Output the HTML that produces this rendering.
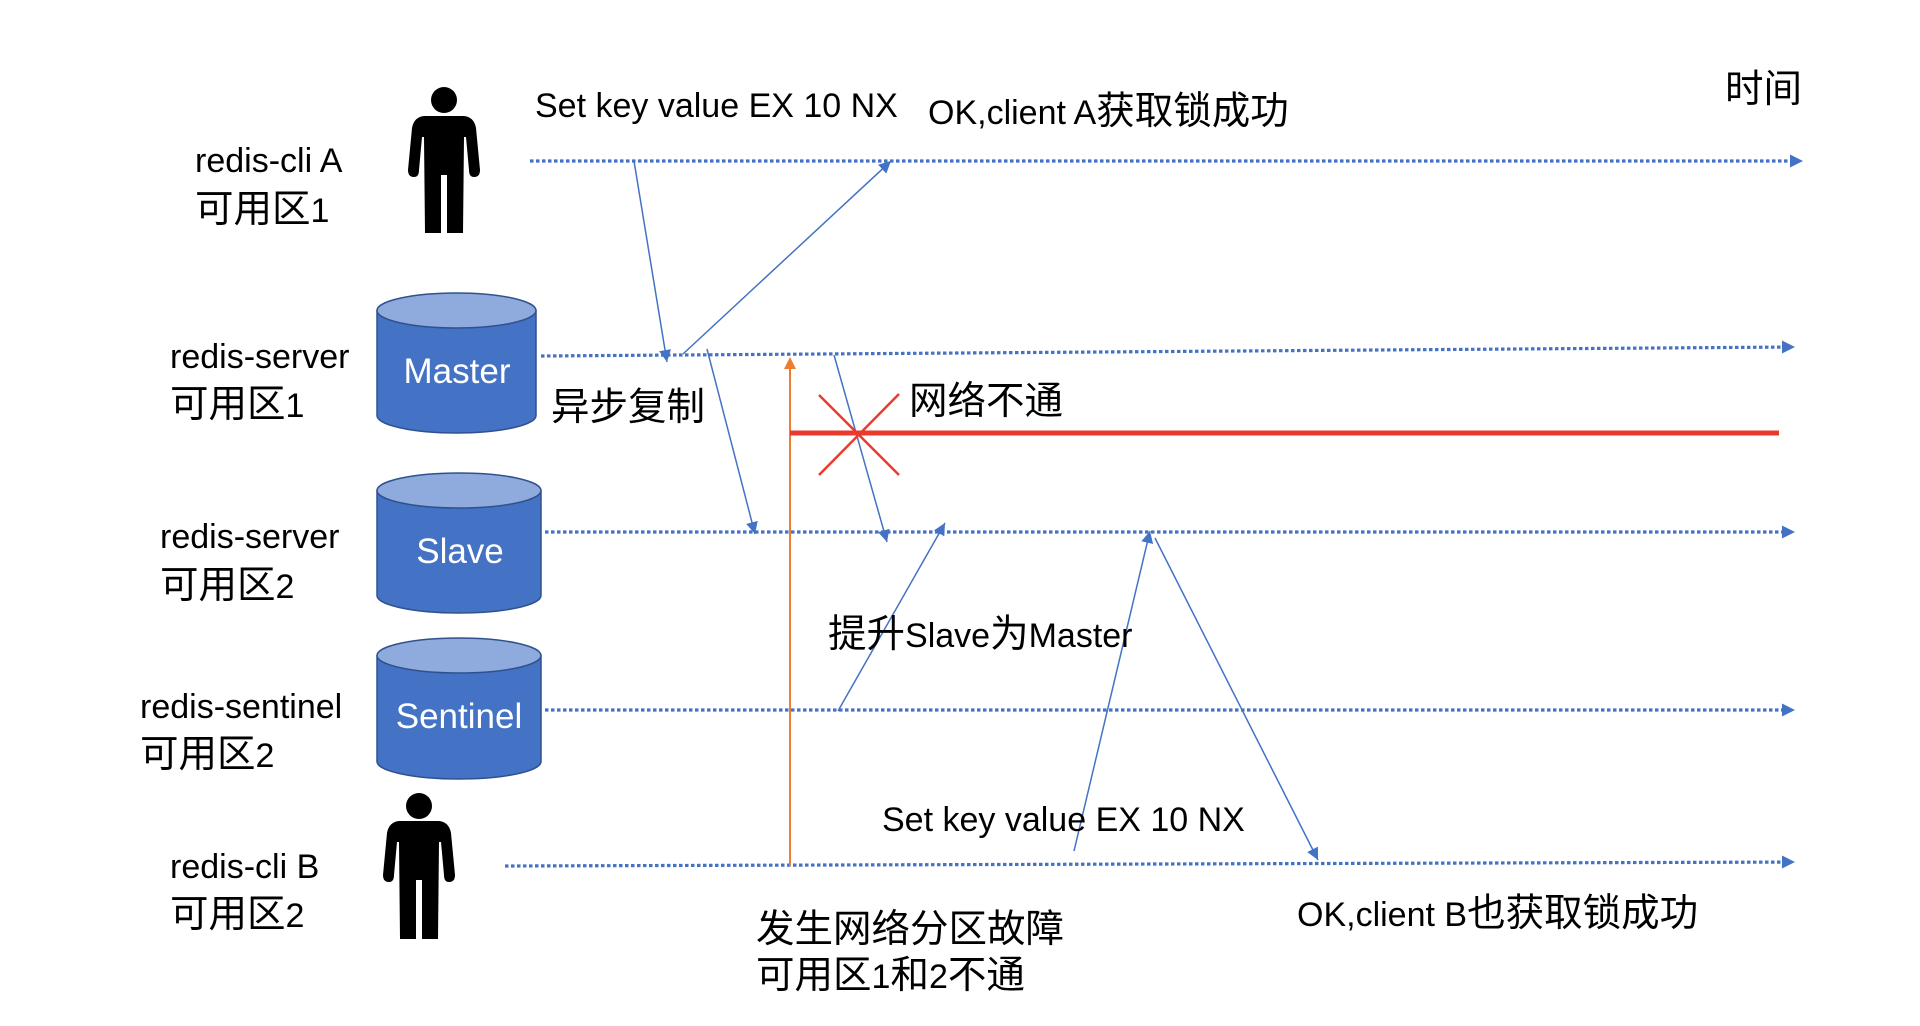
<!DOCTYPE html>
<html>
<head>
<meta charset="utf-8">
<style>
  html, body { margin:0; padding:0; background:#fff; }
  body { width:1920px; height:1026px; overflow:hidden; }
  svg { display:block; }
  text { font-family: "Liberation Sans", "Noto Sans CJK SC", sans-serif; fill:#000; }
  .l { font-size:34px; }
  .c { font-size:38.5px; }
  .w { fill:#fff; font-size:35px; }
</style>
</head>
<body>
<svg width="1920" height="1026" viewBox="0 0 1920 1026" xmlns="http://www.w3.org/2000/svg">
  <defs>
    <marker id="ab" markerWidth="12" markerHeight="12" refX="12" refY="6" orient="auto" markerUnits="userSpaceOnUse">
      <path d="M0,0 L12,6 L0,12 Z" fill="#4472C4"/>
    </marker>
  </defs>
  <rect width="1920" height="1026" fill="#fff"/>

  <!-- Timelines (dotted) -->
  <g stroke="#4472C4" stroke-width="3.2" stroke-dasharray="3.5 2.5" fill="none">
    <line x1="530" y1="161" x2="1790" y2="161"/>
    <line x1="541" y1="356" x2="1782" y2="347.1"/>
    <line x1="545" y1="532" x2="1782" y2="532"/>
    <line x1="545" y1="710" x2="1782" y2="710"/>
    <line x1="505" y1="866" x2="1782" y2="862.1"/>
  </g>
  <g fill="#4472C4">
    <polygon points="1803,161 1790,154.5 1790,167.5"/>
    <polygon points="1795,347 1782,340.5 1782,353.5"/>
    <polygon points="1795,532 1782,525.5 1782,538.5"/>
    <polygon points="1795,710 1782,703.5 1782,716.5"/>
    <polygon points="1795,862 1782,855.5 1782,868.5"/>
  </g>

  <!-- Thin arrows -->
  <g stroke="#4472C4" stroke-width="1.5" fill="none" marker-end="url(#ab)">
    <line x1="634" y1="161" x2="667" y2="362"/>
    <line x1="683" y1="354" x2="891" y2="161"/>
    <line x1="707" y1="349" x2="755" y2="534"/>
    <line x1="834" y1="355" x2="887" y2="542"/>
    <line x1="838" y1="711" x2="945" y2="523"/>
    <line x1="1074" y1="851" x2="1150" y2="531"/>
    <line x1="1155" y1="538" x2="1318" y2="860"/>
  </g>

  <!-- Orange partition arrow -->
  <line x1="790" y1="866" x2="790" y2="367" stroke="#ED7D31" stroke-width="2"/>
  <polygon points="790,357 784,369 796,369" fill="#ED7D31"/>

  <!-- Red network line and X -->
  <line x1="790" y1="433" x2="1779" y2="433" stroke="#EA3A2D" stroke-width="5"/>
  <g stroke="#EA3A2D" stroke-width="2.5">
    <line x1="819" y1="395" x2="899" y2="475"/>
    <line x1="899" y1="394" x2="819" y2="475"/>
  </g>

  <!-- Persons -->
  <g fill="#000">
    <circle cx="444" cy="100" r="13"/>
    <path d="M424,116 L464,116 Q474,117 476,128 L480,170 Q480,177 474,177 Q469,177 469,170 L466,137 L464,137 L463,233 L447,233 L447,175 L441,175 L441,233 L425,233 L424,137 L422,137 L419,170 Q419,177 414,177 Q408,177 408,170 L412,128 Q414,117 424,116 Z"/>
    <circle cx="419" cy="806" r="13"/>
    <path d="M399,821 L439,821 Q449,822 451,833 L455,875 Q455,882 449,882 Q444,882 444,875 L441,842 L439,842 L438,939 L422,939 L422,880 L416,880 L416,939 L400,939 L399,842 L397,842 L394,875 Q394,882 389,882 Q383,882 383,875 L387,833 Q389,822 399,821 Z"/>
  </g>

  <!-- Cylinders -->
  <g stroke="#2F528F" stroke-width="1.5">
    <path d="M377,310.5 L377,415.5 A79.5,17.5 0 0 0 536,415.5 L536,310.5 Z" fill="#4472C4"/>
    <ellipse cx="456.5" cy="310.5" rx="79.5" ry="17.5" fill="#8FAADC"/>
    <path d="M377,490.5 L377,595.5 A82,17.5 0 0 0 541,595.5 L541,490.5 Z" fill="#4472C4"/>
    <ellipse cx="459" cy="490.5" rx="82" ry="17.5" fill="#8FAADC"/>
    <path d="M377,655.5 L377,761.5 A82,17.5 0 0 0 541,761.5 L541,655.5 Z" fill="#4472C4"/>
    <ellipse cx="459" cy="655.5" rx="82" ry="17.5" fill="#8FAADC"/>
  </g>
  <text class="w" x="457" y="383" text-anchor="middle">Master</text>
  <text class="w" x="460" y="563" text-anchor="middle">Slave</text>
  <text class="w" x="459" y="728" text-anchor="middle">Sentinel</text>

  <!-- Left labels -->
  <text class="l" x="195" y="172">redis-cli A</text>
  <text class="c" x="195" y="222">可用区<tspan font-size="34">1</tspan></text>

  <text class="l" x="170" y="368">redis-server</text>
  <text class="c" x="170" y="417">可用区<tspan font-size="34">1</tspan></text>

  <text class="l" x="160" y="548">redis-server</text>
  <text class="c" x="160" y="598">可用区<tspan font-size="34">2</tspan></text>

  <text class="l" x="140" y="718">redis-sentinel</text>
  <text class="c" x="140" y="767">可用区<tspan font-size="34">2</tspan></text>

  <text class="l" x="170" y="878">redis-cli B</text>
  <text class="c" x="170" y="927">可用区<tspan font-size="34">2</tspan></text>

  <!-- Diagram labels -->
  <text class="l" x="535" y="117">Set key value EX 10 NX</text>
  <text class="l" x="928" y="124">OK,client A<tspan font-size="38.5">获取锁成功</tspan></text>
  <text class="c" x="1725" y="102">时间</text>
  <text class="c" x="551" y="420">异步复制</text>
  <text class="c" x="909" y="414">网络不通</text>
  <text class="c" x="828" y="647">提升<tspan font-size="34">Slave</tspan>为<tspan font-size="34">Master</tspan></text>
  <text class="l" x="882" y="831">Set key value EX 10 NX</text>
  <text class="c" x="756" y="942">发生网络分区故障</text>
  <text class="c" x="756" y="988">可用区<tspan font-size="34">1</tspan>和<tspan font-size="34">2</tspan>不通</text>
  <text class="l" x="1297" y="926">OK,client B<tspan font-size="38.5">也获取锁成功</tspan></text>
</svg>
</body>
</html>
